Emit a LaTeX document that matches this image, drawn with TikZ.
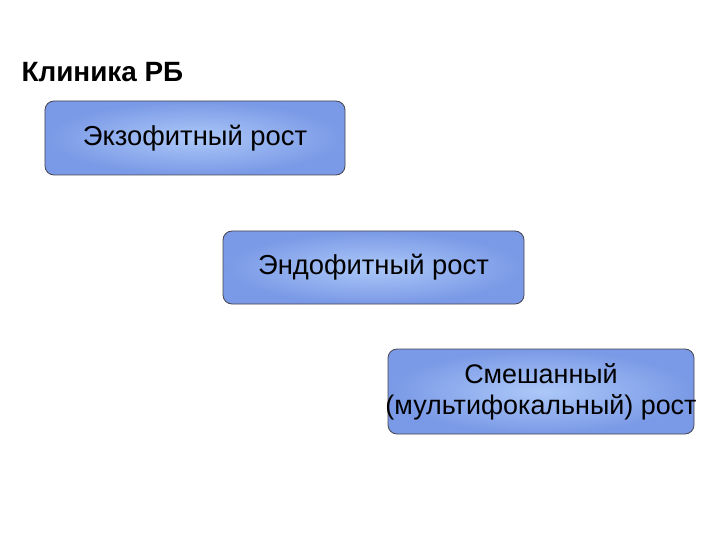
\documentclass[tikz,border=0pt]{standalone}
\usepackage{fontspec}
\setmainfont{Liberation Sans}
\definecolor{boxout}{RGB}{122,153,230}
\definecolor{boxin}{RGB}{172,200,248}
\definecolor{boxline}{RGB}{70,70,80}
\tikzset{
  growbox/.style={draw=boxline, line width=0.8bp, rounded corners=9bp,
    inner color=boxin, outer color=boxout, font=\fontsize{27.5}{31}\selectfont,
    align=center, inner sep=0pt},
}
\begin{document}
\begin{tikzpicture}[x=1bp,y=-1bp]
\useasboundingbox (0,0) rectangle (720,540);
\node[anchor=west, font=\bfseries\fontsize{28}{32}\selectfont] (title) at (18,72) {Клиника РБ};
\node[growbox, minimum width=300bp, minimum height=74bp] (exo) at (195,138) {Экзофитный рост};
\node[growbox, minimum width=301bp, minimum height=73bp] (endo) at (373.5,267.5) {Эндофитный рост};
\node[growbox, font=\fontsize{27}{31}\selectfont, minimum width=306bp, minimum height=85bp] (mix) at (541,391.5) {\raisebox{-3bp}{\parbox{300bp}{\centering Смешанный\\\makebox[300bp][c]{(мультифокальный)~рост}}}};
\end{tikzpicture}
\end{document}
